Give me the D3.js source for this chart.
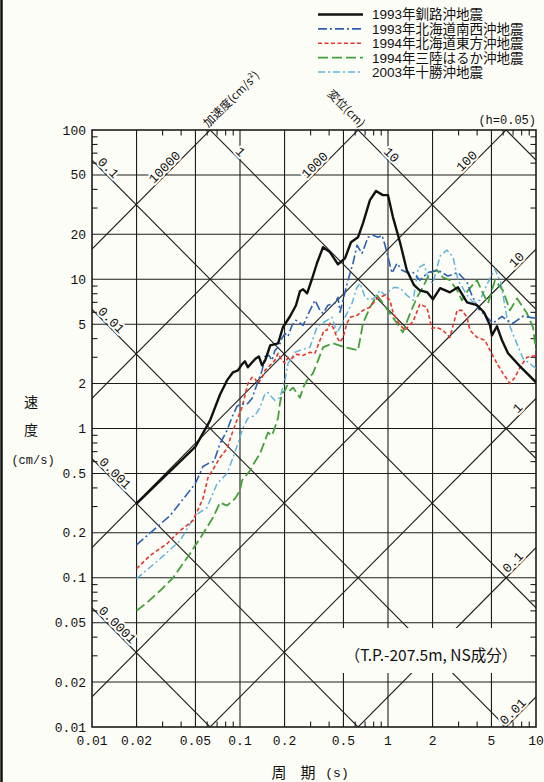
<!DOCTYPE html>
<html><head><meta charset="utf-8">
<script src="https://cdn.jsdelivr.net/npm/d3@7"></script>
<style>
html,body{margin:0;padding:0;background:#fdfdf7;}
svg{display:block;}
</style></head><body>
<svg id="chart" width="544" height="782"></svg>
<script>
// ---------- DATA ----------
const periodTicks = [0.01,0.02,0.05,0.1,0.2,0.5,1,2,5,10];
const periodTickLabels = ["0.01","0.02","0.05","0.1","0.2","0.5","1","2","5","10"];
const velocityTicks = [0.01,0.02,0.05,0.1,0.2,0.5,1,2,5,10,20,50,100];
const velocityTickLabels = ["0.01","0.02","0.05","0.1","0.2","0.5","1","2","5","10","20","50","100"];
const displacementLines = [0.0001,0.001,0.01,0.1,1,10,100];          // cm
const displacementLabels = ["0.0001","0.001","0.01","0.1","1","10",""];
const accelerationLines = [0.01,0.1,1,10,100,1000,10000];             // cm/s2
const accelerationLabels = ["0.01","0.1","1","10","100","1000","10000"];
const seriesNames = ["1993年釧路沖地震","1993年北海道南西沖地震","1994年北海道東方沖地震","1994年三陸はるか沖地震","2003年十勝沖地震"];

// [period (s), pseudo velocity (cm/s)]
const kushiro1993 = [[0.02,0.314],[0.05,0.757],[0.0627,1.13],[0.0733,1.69],[0.0817,2.10],[0.0897,2.38],[0.0968,2.45],[0.103,2.69],[0.108,2.82],[0.113,2.57],[0.1205,2.77],[0.128,2.95],[0.134,3.04],[0.141,2.65],[0.148,2.86],[0.160,3.61],[0.181,3.72],[0.195,4.77],[0.218,5.65],[0.239,6.70],[0.254,8.30],[0.267,8.57],[0.284,8.05],[0.306,10.0],[0.331,12.8],[0.364,16.4],[0.405,15.2],[0.459,12.6],[0.512,13.8],[0.562,17.7],[0.627,19.1],[0.678,23.8],[0.755,33.9],[0.830,39.0],[0.924,36.6],[1.0,36.6],[1.08,26.1],[1.205,17.7],[1.34,11.5],[1.50,9.12],[1.64,8.43],[1.84,8.18],[2.01,7.34],[2.25,8.71],[2.62,8.18],[2.97,8.83],[3.42,7.01],[3.99,6.70],[4.45,6.01],[4.89,4.91],[5.04,4.21],[5.45,4.84],[5.89,3.90],[6.47,3.19],[7.80,2.61],[10,2.04]];
const nanseiOki1993 = [[0.02,0.166],[0.0337,0.261],[0.05,0.428],[0.0562,0.556],[0.0608,0.582],[0.0667,0.601],[0.0733,0.793],[0.0817,0.970],[0.0883,1.19],[0.0955,1.41],[0.103,1.47],[0.1115,1.45],[0.1205,1.59],[0.1324,2.07],[0.141,2.45],[0.1476,3.04],[0.157,3.09],[0.1645,2.86],[0.1723,3.34],[0.1834,3.55],[0.192,4.02],[0.2014,4.34],[0.211,4.14],[0.2246,4.91],[0.239,5.31],[0.267,4.91],[0.297,6.19],[0.321,7.23],[0.347,6.19],[0.364,5.91],[0.393,6.70],[0.438,6.90],[0.459,7.57],[0.474,6.01],[0.512,8.18],[0.537,9.85],[0.580,12.8],[0.618,16.9],[0.667,14.9],[0.733,19.1],[0.792,19.7],[0.856,19.1],[0.911,19.7],[0.955,16.9],[1.0,14.1],[1.064,11.0],[1.151,12.8],[1.244,11.5],[1.343,11.1],[1.476,11.1],[1.644,9.85],[1.862,11.1],[2.18,11.5],[2.54,10.5],[2.97,11.1],[3.42,9.55],[3.64,8.05],[4.06,6.38],[4.67,5.56],[5.12,5.07],[5.89,5.65],[6.37,5.31],[7.0,5.07],[8.17,5.65],[10,5.47]];
const tohoOki1994 = [[0.02,0.115],[0.0247,0.141],[0.0321,0.169],[0.0393,0.207],[0.0481,0.241],[0.0562,0.339],[0.0608,0.469],[0.0657,0.531],[0.0733,0.639],[0.0817,0.734],[0.0883,0.925],[0.0925,1.047],[0.0969,1.185],[0.103,1.38],[0.108,1.66],[0.113,2.00],[0.1205,2.20],[0.126,2.17],[0.132,2.00],[0.141,2.20],[0.1476,2.45],[0.1546,2.57],[0.1644,2.73],[0.172,2.86],[0.181,3.19],[0.192,2.86],[0.2014,2.73],[0.211,3.0],[0.2246,2.95],[0.239,3.14],[0.267,3.09],[0.297,3.24],[0.321,3.19],[0.347,3.90],[0.370,4.55],[0.387,4.55],[0.406,5.07],[0.425,4.76],[0.452,4.08],[0.474,3.78],[0.497,4.08],[0.528,5.07],[0.554,5.56],[0.618,5.73],[0.678,6.19],[0.756,6.49],[0.843,7.45],[0.954,7.81],[1.03,7.23],[1.08,6.01],[1.17,5.14],[1.30,4.55],[1.48,5.22],[1.64,6.80],[1.83,6.49],[1.98,4.69],[2.14,4.76],[2.35,4.55],[2.62,4.08],[2.93,6.19],[3.16,6.19],[3.42,5.56],[3.58,4.55],[3.99,4.08],[4.52,3.90],[4.89,3.34],[5.45,2.73],[5.98,2.34],[6.67,2.00],[7.21,2.20],[7.80,2.57],[8.69,3.0],[10,3.09]];
const sanrikuHaruka1994 = [[0.02,0.0601],[0.0235,0.0680],[0.0288,0.0818],[0.0353,0.100],[0.0459,0.145],[0.0562,0.197],[0.0657,0.253],[0.0733,0.319],[0.0817,0.304],[0.0925,0.339],[0.100,0.384],[0.103,0.448],[0.117,0.523],[0.124,0.582],[0.1365,0.679],[0.1476,0.831],[0.1546,0.940],[0.1644,0.898],[0.172,1.015],[0.181,1.185],[0.186,1.47],[0.192,1.72],[0.2014,1.80],[0.208,1.94],[0.218,1.80],[0.228,1.88],[0.243,1.72],[0.254,1.61],[0.271,1.94],[0.284,2.10],[0.311,2.34],[0.337,2.86],[0.364,3.50],[0.425,3.72],[0.512,3.50],[0.627,3.34],[0.678,5.07],[0.756,6.49],[0.843,7.81],[0.925,6.90],[1.03,5.91],[1.15,5.07],[1.26,4.41],[1.41,5.91],[1.57,7.57],[1.72,8.84],[1.92,11.0],[2.14,11.5],[2.35,10.3],[2.62,9.85],[2.93,8.43],[3.16,7.23],[3.47,8.43],[3.99,9.85],[4.38,8.05],[4.74,6.90],[5.28,9.85],[5.98,8.43],[6.67,6.19],[7.44,7.45],[8.69,5.91],[9.55,4.76],[10,3.34]];
const tokachiOki2003 = [[0.02,0.0985],[0.0288,0.134],[0.0393,0.177],[0.0497,0.261],[0.0598,0.295],[0.070,0.428],[0.0817,0.499],[0.0897,0.639],[0.0969,0.793],[0.105,1.015],[0.113,1.17],[0.126,1.22],[0.1365,1.38],[0.1476,1.72],[0.1546,1.74],[0.172,1.54],[0.186,1.61],[0.2014,2.10],[0.211,2.73],[0.2246,3.0],[0.235,3.24],[0.254,3.34],[0.297,3.50],[0.331,4.76],[0.358,5.07],[0.387,5.31],[0.419,5.56],[0.452,4.34],[0.489,5.07],[0.528,5.91],[0.571,6.90],[0.618,8.84],[0.647,9.40],[0.699,7.57],[0.756,7.23],[0.817,7.57],[0.883,8.43],[0.954,7.81],[1.03,8.43],[1.10,8.84],[1.21,8.71],[1.34,7.81],[1.48,7.23],[1.60,11.9],[1.75,12.6],[1.89,9.85],[2.01,9.40],[2.25,14.3],[2.50,15.7],[2.75,14.1],[2.97,9.85],[3.42,7.81],[3.75,7.01],[4.19,7.23],[4.67,9.25],[5.28,11.7],[5.80,9.40],[6.37,5.47],[7.0,4.27],[8.17,2.95],[10,2.53]];

// ---------- SETUP ----------
const W = 544, H = 782, BG = "#fdfdf7", INK = "#1c1c1c";
const MONO = "'Liberation Mono','DejaVu Sans Mono',monospace";
const JP = "'Noto Sans CJK JP','Noto Sans',sans-serif";
const LEG = "'Liberation Sans','Noto Sans CJK JP',sans-serif";
const svg = d3.select("#chart");
svg.append("rect").attr("width", W).attr("height", H).attr("fill", BG);
svg.append("line").attr("x1", 1.5).attr("x2", 1.5).attr("y1", 0).attr("y2", H)
  .attr("stroke", "#111").attr("stroke-width", 2.5);

const x = d3.scaleLog().domain([0.01, 10]).range([92, 536]);
const y = d3.scaleLog().domain([0.01, 100]).range([727, 130]);
const [xL, xR] = x.range();
const [yB, yT] = y.range();
const TWO_PI = 2 * Math.PI;
const lead = t => Math.round(t / Math.pow(10, Math.floor(Math.log10(t) + 1e-9)));

svg.append("clipPath").attr("id", "plotclip").append("rect")
  .attr("x", xL).attr("y", yT).attr("width", xR - xL).attr("height", yB - yT);

// ---------- GRID ----------
const grid = svg.append("g").attr("stroke", INK).attr("stroke-width", 1.1);
grid.selectAll(".vg").data(periodTicks.slice(1, -1)).join("line")
  .attr("x1", d => x(d)).attr("x2", d => x(d)).attr("y1", yT).attr("y2", yB);
grid.selectAll(".hg").data(velocityTicks.slice(1, -1)).join("line")
  .attr("y1", d => y(d)).attr("y2", d => y(d)).attr("x1", xL).attr("x2", xR);

// minor ticks (3,4,6,7,8,9 of each decade)
const minorX = x.ticks().filter(t => [3,4,6,7,8,9].includes(lead(t)));
const minorY = y.ticks().filter(t => [3,4,6,7,8,9].includes(lead(t)));
const TL = 5.5;
grid.selectAll(".mt").data(minorX).join("line")
  .attr("x1", d => x(d)).attr("x2", d => x(d)).attr("y1", yT).attr("y2", yT + TL);
grid.selectAll(".mb").data(minorX).join("line")
  .attr("x1", d => x(d)).attr("x2", d => x(d)).attr("y1", yB).attr("y2", yB - TL);
grid.selectAll(".ml").data(minorY).join("line")
  .attr("y1", d => y(d)).attr("y2", d => y(d)).attr("x1", xL).attr("x2", xL + TL);
grid.selectAll(".mr").data(minorY).join("line")
  .attr("y1", d => y(d)).attr("y2", d => y(d)).attr("x1", xR).attr("x2", xR - TL);

// ---------- TRIPARTITE DIAGONALS ----------
const Tdom = x.domain();
const diag = svg.append("g").attr("clip-path", "url(#plotclip)")
  .attr("stroke", INK).attr("stroke-width", 1.1);
displacementLines.forEach(D => {
  diag.append("line")
    .attr("x1", x(Tdom[0])).attr("y1", y(TWO_PI * D / Tdom[0]))
    .attr("x2", x(Tdom[1])).attr("y2", y(TWO_PI * D / Tdom[1]));
});
accelerationLines.forEach(A => {
  diag.append("line")
    .attr("x1", x(Tdom[0])).attr("y1", y(A * Tdom[0] / TWO_PI))
    .attr("x2", x(Tdom[1])).attr("y2", y(A * Tdom[1] / TWO_PI));
});

// label positions along lines (period at which each label sits)
const dispLabelT = [0.0139, 0.0134, 0.0126, 0.01205, 0.094, 0.985, null];
const accLabelT = [7.45, 7.45, 8.04, 7.92, 3.64, 0.342, 0.0331];
const labG = svg.append("g").attr("font-family", MONO).attr("font-size", 13)
  .attr("fill", "#111").attr("text-anchor", "middle");
function haloText(sel) {
  sel.attr("stroke", BG).attr("stroke-width", 4).attr("paint-order", "stroke")
    .attr("stroke-linejoin", "round");
}
displacementLines.forEach((D, i) => {
  if (!displacementLabels[i]) return;
  const T = dispLabelT[i], px = x(T), py = y(TWO_PI * D / T);
  labG.append("text").attr("transform", `translate(${px},${py}) rotate(45)`)
    .attr("dy", -2).text(displacementLabels[i]).call(haloText);
});
accelerationLines.forEach((A, i) => {
  const T = accLabelT[i], px = x(T), py = y(A * T / TWO_PI);
  labG.append("text").attr("transform", `translate(${px},${py}) rotate(-45)`)
    .attr("dy", -2).text(accelerationLabels[i]).call(haloText);
});

// axis titles for the diagonals
const accTop = 100 * TWO_PI / 10000;   // where A=10000 meets the top edge
const dispTop = TWO_PI * 10 / 100;     // where D=10 meets the top edge
svg.append("text").attr("transform", `translate(${x(accTop) - 2},${yT - 2}) rotate(-45)`)
  .attr("font-family", JP).attr("font-size", 11.5).attr("fill", "#111")
  .text("加速度(cm/s²)");
svg.append("text").attr("transform", `translate(${x(dispTop) + 2},${yT - 2}) rotate(45)`)
  .attr("font-family", JP).attr("font-size", 11.5).attr("fill", "#111")
  .attr("text-anchor", "end").text("変位(cm)");

// ---------- ANNOTATION BOX ----------
svg.append("rect").attr("x", 340).attr("y", 628).attr("width", 184).attr("height", 45).attr("fill", BG);
svg.append("text").attr("x", 431).attr("y", 661).attr("text-anchor", "middle")
  .attr("font-family", JP).attr("font-size", 15.5).attr("fill", "#111")
  .text("（T.P.-207.5m, NS成分）");

// ---------- FRAME ----------
svg.append("rect").attr("x", xL).attr("y", yT).attr("width", xR - xL).attr("height", yB - yT)
  .attr("fill", "none").attr("stroke", INK).attr("stroke-width", 1.6);

// ---------- CURVES ----------
const series = [
  {name: seriesNames[0], data: kushiro1993, color: "#111111", width: 2.4, dash: null},
  {name: seriesNames[1], data: nanseiOki1993, color: "#2c5fb3", width: 1.6, dash: "9,3,2,3"},
  {name: seriesNames[2], data: tohoOki1994, color: "#e3382e", width: 1.6, dash: "4,2.5"},
  {name: seriesNames[3], data: sanrikuHaruka1994, color: "#43a03a", width: 1.8, dash: "10,4"},
  {name: seriesNames[4], data: tokachiOki2003, color: "#60b3dc", width: 1.5, dash: "7,3,2,3"}
];
const line = d3.line().x(d => x(d[0])).y(d => y(d[1]));
const cg = svg.append("g").attr("clip-path", "url(#plotclip)").attr("fill", "none");
series.slice().reverse().forEach(s => {
  cg.append("path").attr("d", line(s.data)).attr("stroke", s.color)
    .attr("stroke-width", s.width).attr("stroke-dasharray", s.dash)
    .attr("stroke-linejoin", "round");
});

// ---------- AXIS TICK LABELS ----------
const tl = svg.append("g").attr("font-family", MONO).attr("font-size", 13).attr("fill", "#111");
tl.selectAll(".yl").data(velocityTicks).join("text")
  .attr("x", xL - 6).attr("y", d => y(d)).attr("dy", "0.35em").attr("text-anchor", "end")
  .text((d, i) => velocityTickLabels[i]);
tl.selectAll(".xl").data(periodTicks).join("text")
  .attr("x", d => x(d)).attr("y", yB + 18).attr("text-anchor", "middle")
  .text((d, i) => periodTickLabels[i]);

svg.append("text").attr("x", xR).attr("y", yT - 6).attr("text-anchor", "end")
  .attr("font-family", MONO).attr("font-size", 12).attr("fill", "#111").text("(h=0.05)");

// axis titles
const at = svg.append("g").attr("fill", "#111");
at.append("text").attr("x", 31).attr("y", 407).attr("text-anchor", "middle")
  .attr("font-family", JP).attr("font-size", 14).text("速");
at.append("text").attr("x", 31).attr("y", 435).attr("text-anchor", "middle")
  .attr("font-family", JP).attr("font-size", 14).text("度");
at.append("text").attr("x", 33).attr("y", 464).attr("text-anchor", "middle")
  .attr("font-family", MONO).attr("font-size", 12).text("(cm/s)");
at.append("text").attr("x", 279).attr("y", 778).attr("text-anchor", "middle")
  .attr("font-family", JP).attr("font-size", 15).text("周");
at.append("text").attr("x", 308).attr("y", 778).attr("text-anchor", "middle")
  .attr("font-family", JP).attr("font-size", 15).text("期");
at.append("text").attr("x", 337).attr("y", 777).attr("text-anchor", "middle")
  .attr("font-family", MONO).attr("font-size", 13).text("(s)");

// ---------- LEGEND ----------
const lg = svg.append("g");
series.forEach((s, i) => {
  const ly = 14.5 + i * 14.4;
  lg.append("line").attr("x1", 318).attr("x2", 363).attr("y1", ly).attr("y2", ly)
    .attr("stroke", s.color).attr("stroke-width", s.width).attr("stroke-dasharray", s.dash);
  lg.append("text").attr("x", 372).attr("y", ly).attr("dy", "0.36em")
    .attr("font-family", LEG).attr("font-size", 13.5).attr("fill", "#111").text(s.name);
});
</script>
</body></html>
